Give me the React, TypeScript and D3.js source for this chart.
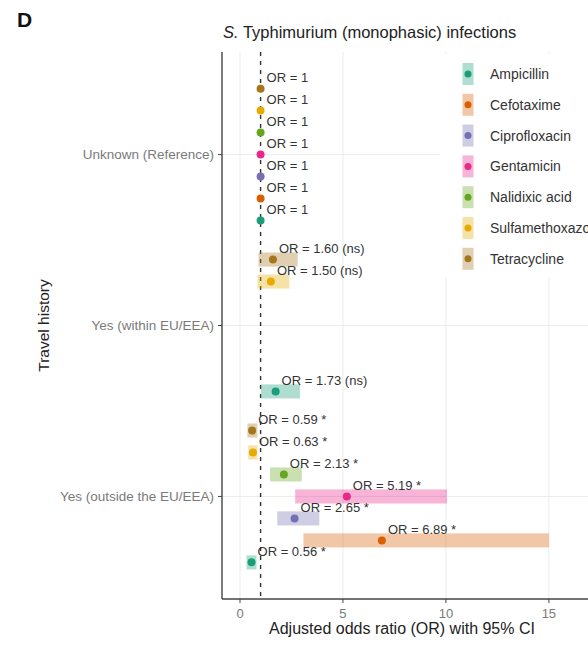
import React from "react";
import * as d3 from "d3";

// Antimicrobials (legend order) and travel-history groups (top to bottom)
const drugs = [
  "Ampicillin",
  "Cefotaxime",
  "Ciprofloxacin",
  "Gentamicin",
  "Nalidixic acid",
  "Sulfamethoxazole",
  "Tetracycline",
];
const travelGroups = [
  "Unknown (Reference)",
  "Yes (within EU/EEA)",
  "Yes (outside the EU/EEA)",
];
const drugColors = ["#1B9E77", "#D95F02", "#7570B3", "#E7298A", "#66A61E", "#E6AB02", "#A6761D"];

// Adjusted odds ratios with 95% CI, one array per column
const rowTravel = [
  0, 0, 0, 0, 0, 0, 0,
  1, 1, 1,
  2, 2, 2, 2, 2, 2, 2,
];
const rowDrug = [
  "Ampicillin", "Cefotaxime", "Ciprofloxacin", "Gentamicin", "Nalidixic acid", "Sulfamethoxazole", "Tetracycline",
  "Ampicillin", "Sulfamethoxazole", "Tetracycline",
  "Ampicillin", "Cefotaxime", "Ciprofloxacin", "Gentamicin", "Nalidixic acid", "Sulfamethoxazole", "Tetracycline",
];
const rowOR = [
  1, 1, 1, 1, 1, 1, 1,
  1.73, 1.5, 1.6,
  0.56, 6.89, 2.65, 5.19, 2.13, 0.63, 0.59,
];
const rowLow = [
  1, 1, 1, 1, 1, 1, 1,
  1.02, 0.85, 0.9,
  0.32, 3.08, 1.81, 2.68, 1.46, 0.4, 0.36,
];
const rowHigh = [
  1, 1, 1, 1, 1, 1, 1,
  2.91, 2.4, 2.8,
  0.8, 15.0, 3.85, 10.05, 3.0, 0.85, 0.84,
];
// "" = reference level, "ns" = not significant, "*" = significant
const rowSig = [
  "", "", "", "", "", "", "",
  "ns", "ns", "ns",
  "*", "*", "*", "*", "*", "*", "*",
];
const xTicks = [0, 5, 10, 15];

const W = 588;
const H = 653;
const panel = { left: 222, right: 588, top: 52, bottom: 599 };
const FONT = "'Liberation Sans', Arial, Helvetica, sans-serif";

function orLabel(or: number, sig: string) {
  if (sig === "") return `OR = ${or}`;
  if (sig === "ns") return `OR = ${or.toFixed(2)} (ns)`;
  return `OR = ${or.toFixed(2)} ${sig}`;
}

export default function App() {
  const x = d3
    .scaleLinear()
    .domain([-0.874, 16.9])
    .range([panel.left, panel.right]);

  const y = d3
    .scalePoint<string>()
    .domain(travelGroups)
    .range([panel.top, panel.bottom])
    .padding(0.6);
  const step = y.step();

  const dodge = d3
    .scaleBand<string>()
    .domain([...drugs].reverse())
    .range([-0.45 * step, 0.45 * step]);
  const slot = dodge.bandwidth();
  const bandH = slot * 0.64;

  const color = d3.scaleOrdinal<string, string>().domain(drugs).range(drugColors);

  const rows = rowOR.map((or, i) => {
    const g = travelGroups[rowTravel[i]];
    const d = rowDrug[i];
    return {
      g,
      d,
      or,
      lo: rowLow[i],
      hi: rowHigh[i],
      sig: rowSig[i],
      cy: (y(g) as number) + (dodge(d) as number) + slot / 2,
    };
  });

  const legendY0 = 74;
  const legendStep = 30.8;

  return (
    <svg
      width={W}
      height={H}
      style={{ position: "absolute", left: 0, top: 0, background: "#fff" }}
      fontFamily={FONT}
    >
      <rect width={W} height={H} fill="#fff" />

      {/* panel label */}
      <text x={17} y={27} fontSize={21} fontWeight="bold" fill="#111">
        D
      </text>

      {/* title */}
      <text x={223} y={38} fontSize={16.5} fill="#222">
        <tspan fontStyle="italic">S.</tspan> Typhimurium (monophasic) infections
      </text>

      {/* grid */}
      <g>
        {xTicks.map((t) => (
          <line
            key={`gx${t}`}
            x1={x(t)}
            x2={x(t)}
            y1={panel.top}
            y2={panel.bottom}
            stroke="#ebebeb"
            strokeWidth={1}
          />
        ))}
        {travelGroups.map((g) => (
          <line
            key={`gy${g}`}
            x1={panel.left}
            x2={panel.right}
            y1={y(g)}
            y2={y(g)}
            stroke="#ebebeb"
            strokeWidth={1}
          />
        ))}
      </g>

      {/* reference line at OR = 1 */}
      <line
        x1={x(1)}
        x2={x(1)}
        y1={panel.top}
        y2={panel.bottom}
        stroke="#333"
        strokeWidth={1.4}
        strokeDasharray="4,5"
      />

      {/* confidence intervals */}
      <g>
        {rows
          .filter((r) => r.hi > r.lo)
          .map((r, i) => (
            <rect
              key={`ci${i}`}
              x={x(r.lo)}
              width={x(r.hi) - x(r.lo)}
              y={r.cy - bandH / 2}
              height={bandH}
              fill={color(r.d)}
              fillOpacity={0.35}
            />
          ))}
      </g>

      {/* point estimates */}
      <g>
        {rows.map((r, i) => (
          <circle key={`pt${i}`} cx={x(r.or)} cy={r.cy} r={4} fill={color(r.d)} />
        ))}
      </g>

      {/* value labels */}
      <g fontSize={13} fill="#333">
        {rows.map((r, i) => (
          <text key={`lb${i}`} x={x(r.or) + 6} y={r.cy - 11} dominantBaseline="central">
            {orLabel(r.or, r.sig)}
          </text>
        ))}
      </g>

      {/* legend */}
      <g>
        <rect x={440} y={panel.top + 2} width={W - 440} height={224} fill="#fff" />
        {drugs.map((d, i) => {
          const cy = legendY0 + i * legendStep;
          return (
            <g key={`lg${d}`}>
              <rect x={462.5} y={cy - 11} width={11} height={22} fill={color(d)} fillOpacity={0.35} />
              <circle cx={468} cy={cy} r={3.5} fill={color(d)} />
              <text x={490} y={cy} dominantBaseline="central" fontSize={14} fill="#333">
                {d}
              </text>
            </g>
          );
        })}
      </g>

      {/* axes */}
      <line x1={panel.left} x2={panel.left} y1={panel.top} y2={panel.bottom} stroke="#444" strokeWidth={1.4} />
      <line x1={panel.left} x2={panel.right} y1={panel.bottom} y2={panel.bottom} stroke="#444" strokeWidth={1.4} />

      {travelGroups.map((g) => (
        <g key={`yt${g}`}>
          <line x1={panel.left - 4} x2={panel.left} y1={y(g)} y2={y(g)} stroke="#444" strokeWidth={1} />
          <text
            x={panel.left - 8}
            y={y(g)}
            textAnchor="end"
            dominantBaseline="central"
            fontSize={13.5}
            fill="#7a7a7a"
          >
            {g}
          </text>
        </g>
      ))}

      {xTicks.map((t) => (
        <g key={`xt${t}`}>
          <line x1={x(t)} x2={x(t)} y1={panel.bottom} y2={panel.bottom + 4} stroke="#444" strokeWidth={1} />
          <text
            x={x(t)}
            y={panel.bottom + 14}
            textAnchor="middle"
            dominantBaseline="central"
            fontSize={13}
            fill="#7a7a7a"
          >
            {t}
          </text>
        </g>
      ))}

      {/* axis titles */}
      <text x={402} y={628} textAnchor="middle" dominantBaseline="central" fontSize={16} fill="#222">
        Adjusted odds ratio (OR) with 95% CI
      </text>
      <text
        transform={`translate(43, ${(panel.top + panel.bottom) / 2}) rotate(-90)`}
        textAnchor="middle"
        dominantBaseline="central"
        fontSize={15.5}
        fill="#222"
      >
        Travel history
      </text>
    </svg>
  );
}
